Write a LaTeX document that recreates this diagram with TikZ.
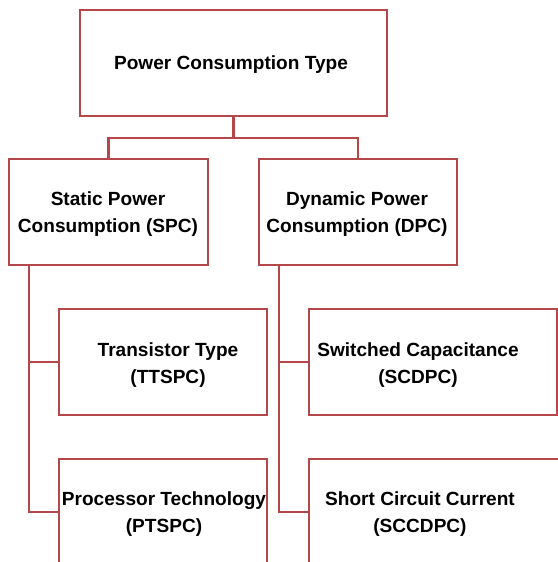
\documentclass[tikz,border=0pt]{standalone}
\usepackage{fontspec}
\setmainfont{Liberation Sans}
\definecolor{boxred}{HTML}{B3474A}
\begin{document}
\begin{tikzpicture}[x=0.75pt, y=-0.75pt, font=\fontsize{14.3}{20.25}\selectfont\bfseries,
    box/.style ={draw=boxred, line width=1.8pt, minimum height=79.5pt},
    lbl/.style ={align=center, text=black},
    wire/.style={draw=boxred, line width=1.8pt},
  ]
  \useasboundingbox (0,0) rectangle (558,562);
  \clip (0,0) rectangle (558,562);

  % Boxes
  \node[box, minimum width=230.25pt] (top) at (233.5,63) {};
  \node[box, minimum width=149.25pt] (spc) at (108.5,212) {};
  \node[box, minimum width=148.5pt]  (dpc) at (358,212) {};
  \node[box, minimum width=156pt]    (tt)  at (163,362) {};
  \node[box, minimum width=156pt]    (pt)  at (163,512) {};
  \node[box, minimum width=186pt]    (sc)  at (433,362) {};
  \node[box, minimum width=225pt]    (scc) at (459,512) {};

  % Labels
  \node[lbl] (top-t) at (231,65)  {Power Consumption Type};
  \node[lbl] (spc-t) at (108,214) {Static Power\\ Consumption (SPC)};
  \node[lbl] (dpc-t) at (357,214) {Dynamic Power\\ Consumption (DPC)};
  \node[lbl] (tt-t)  at (168,365) {Transistor Type\\ (TTSPC)};
  \node[lbl] (pt-t)  at (164,514) {Processor Technology\\ (PTSPC)};
  \node[lbl] (sc-t)  at (418,365) {Switched Capacitance\\ (SCDPC)};
  \node[lbl] (scc-t) at (420,514) {Short Circuit Current\\ (SCCDPC)};

  % Connectors
  \draw[wire] (top.south) -- ++(0,21) -| (spc.north);
  \draw[wire] (top.south) -- ++(0,21) -| (dpc.north);
  \draw[wire] ([xshift=15.75pt]spc.south west) |- (tt.west);
  \draw[wire] ([xshift=15.75pt]spc.south west) |- (pt.west);
  \draw[wire] ([xshift=15.75pt]dpc.south west) |- (sc.west);
  \draw[wire] ([xshift=15.75pt]dpc.south west) |- (scc.west);
\end{tikzpicture}
\end{document}
